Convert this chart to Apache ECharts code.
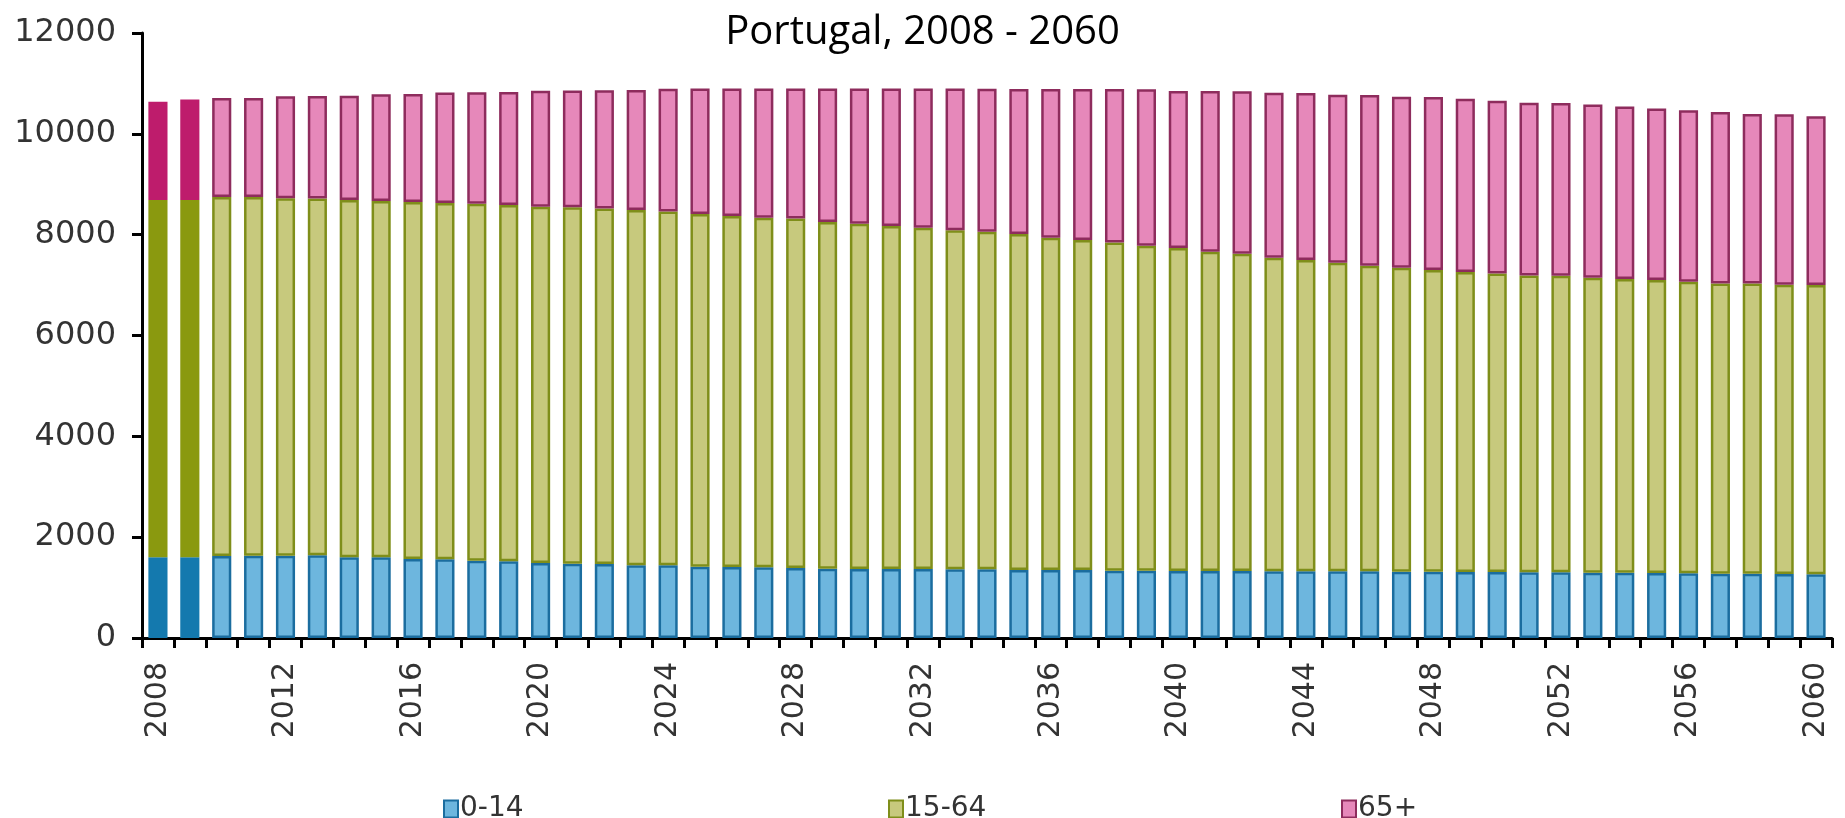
<!DOCTYPE html>
<html>
<head>
<meta charset="utf-8">
<script src="https://cdn.jsdelivr.net/npm/echarts@6/dist/echarts.min.js"></script>
<style>
html,body{margin:0;padding:0;background:#fff;}
#chart{width:1845px;height:818px;}
</style>
</head>
<body>
<div id="chart"></div>
<script>
const titleText = 'Portugal, 2008 - 2060';
const years = ['2008','2009','2010','2011','2012','2013','2014','2015','2016','2017',
  '2018','2019','2020','2021','2022','2023','2024','2025','2026','2027',
  '2028','2029','2030','2031','2032','2033','2034','2035','2036','2037',
  '2038','2039','2040','2041','2042','2043','2044','2045','2046','2047',
  '2048','2049','2050','2051','2052','2053','2054','2055','2056','2057',
  '2058','2059','2060'];
const seriesNames = ['0-14', '15-64', '65+'];
const age0to14 = [1600,1600,1626,1632,1632,1640,1600,1600,1567,1560,
  1533,1520,1487,1474,1467,1441,1441,1414,1408,1401,
  1388,1375,1368,1368,1368,1362,1362,1348,1348,1348,
  1335,1335,1329,1329,1329,1325,1325,1325,1322,1315,
  1315,1309,1309,1302,1302,1295,1295,1289,1282,1275,
  1275,1269,1262];
const age15to64 = [7090,7090,7119,7113,7088,7075,7090,7070,7083,7070,
  7082,7070,7068,7071,7053,7049,7019,6996,6962,6934,
  6932,6875,6847,6802,6769,6728,6696,6667,6592,6544,
  6511,6445,6405,6332,6293,6217,6171,6118,6062,6029,
  5983,5949,5922,5890,5883,5851,5824,5810,5784,5758,
  5758,5736,5738];
const age65plus = [1945,1990,1965,1965,2025,2035,2065,2115,2140,2190,
  2210,2240,2300,2315,2345,2380,2435,2490,2530,2565,
  2580,2650,2685,2730,2763,2810,2837,2875,2950,2998,
  3042,3105,3116,3187,3223,3273,3316,3332,3388,3391,
  3434,3437,3424,3423,3428,3437,3424,3405,3404,3398,
  3358,3384,3351];
const yMin = 0, yMax = 12000, yStep = 2000;
const observedCount = 2; // first two years drawn in darker (observed) colours

const styles = [
  {light:'#6db6de', border:'#1b6d9f', dark:'#1479ae'},
  {light:'#c7c97d', border:'#7f8e1a', dark:'#8a990f'},
  {light:'#e688ba', border:'#8e2c5d', dark:'#be1c6c'}
];
const FONT = 'DejaVu Sans';

function buildData(values, st){
  return values.map((v,i) => i < observedCount
    ? {value:v, itemStyle:{color:st.dark, borderWidth:0}}
    : v);
}
const valueSets = [age0to14, age15to64, age65plus];
const series = seriesNames.map((name, k) => ({
  name: name,
  type: 'bar',
  stack: 'pop',
  barCategoryGap: '40%',
  itemStyle: {color: styles[k].light, borderColor: styles[k].border, borderWidth: 2.5},
  emphasis: {disabled: true},
  data: buildData(valueSets[k], styles[k])
}));

const legendLefts = [438, 883, 1336];
const chart = echarts.init(document.getElementById('chart'));
chart.setOption({
  animation: false,
  backgroundColor: '#ffffff',
  title: {
    text: titleText,
    left: 'center',
    top: 8,
    textStyle: {fontFamily: 'Open Sans', fontWeight: 'normal', fontSize: 40, color: '#000'}
  },
  legend: seriesNames.map((n, k) => ({
    data: [n],
    left: legendLefts[k],
    top: 790,
    icon: 'rect',
    itemWidth: 14,
    itemHeight: 17,
    itemGap: 4,
    selectedMode: false,
    textStyle: {fontFamily: FONT, fontSize: 28, color: '#333', padding:[0,0,0,-3]}
  })),
  grid: {left: 142, right: 13, top: 33, bottom: 180, containLabel: false},
  xAxis: {
    type: 'category',
    data: years,
    boundaryGap: true,
    axisLine: {lineStyle: {color: '#000', width: 3}},
    axisTick: {show: true, interval: 0, length: 10, lineStyle: {color: '#000', width: 3}},
    axisLabel: {interval: 3, rotate: 90, margin: 24, fontFamily: FONT, fontSize: 30, color: '#333'},
    splitLine: {show: false}
  },
  yAxis: {
    type: 'value',
    min: yMin, max: yMax, interval: yStep,
    axisLine: {show: true, lineStyle: {color: '#000', width: 3}},
    axisTick: {show: true, length: 10, lineStyle: {color: '#000', width: 3}},
    axisLabel: {margin: 26, fontFamily: FONT, fontSize: 32, color: '#333', formatter: v => String(v)},
    splitLine: {show: false}
  },
  series: series
});
</script>
</body>
</html>
